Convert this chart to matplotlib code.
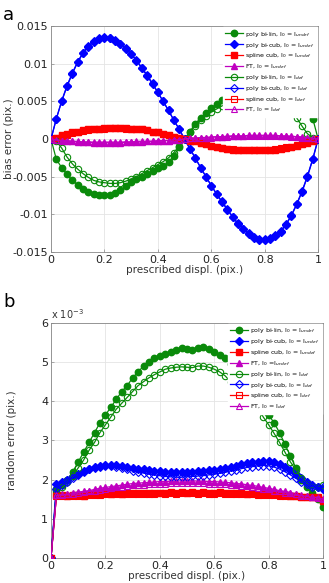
import numpy as np
import matplotlib
matplotlib.use("Agg")
import matplotlib.pyplot as plt

x = np.linspace(0, 1, 51)

# ---------------- panel a: bias error (pix.) ----------------
bias_bilin_undef = [0, -0.0027, -0.0038, -0.0047, -0.0055, -0.0061, -0.0066, -0.0070, -0.0073, -0.0075,
                    -0.0075, -0.0074, -0.0072, -0.0068, -0.0063, -0.0057, -0.0053, -0.0050, -0.0046, -0.0042,
                    -0.0039, -0.0036, -0.0031, -0.0022, -0.0011, 0.0000, 0.0010, 0.0020, 0.0028, 0.0035,
                    0.0041, 0.0047, 0.0052, 0.0057, 0.0062, 0.0066, 0.0070, 0.0073, 0.0075, 0.0076,
                    0.0076, 0.0075, 0.0073, 0.0070, 0.0066, 0.0061, 0.0055, 0.0048, 0.0040, 0.0027, 0.0]
bias_bicub_undef = [0, 0.0027, 0.0050, 0.0070, 0.0087, 0.0102, 0.0114, 0.0123, 0.0129, 0.0133,
                    0.0135, 0.0134, 0.0131, 0.0126, 0.0120, 0.0113, 0.0104, 0.0094, 0.0084, 0.0073,
                    0.0062, 0.0050, 0.0038, 0.0025, 0.0013, 0.0000, -0.0013, -0.0025, -0.0038, -0.0050,
                    -0.0062, -0.0073, -0.0084, -0.0094, -0.0104, -0.0113, -0.0120, -0.0126, -0.0131, -0.0134,
                    -0.0134, -0.0133, -0.0129, -0.0123, -0.0114, -0.0102, -0.0087, -0.0070, -0.0050, -0.0027, 0.0]
bias_spline_undef = [0, 0.0002, 0.0005, 0.0007, 0.0009, 0.0010, 0.0012, 0.0013, 0.0014, 0.0014,
                     0.0015, 0.0015, 0.0015, 0.0015, 0.0015, 0.0014, 0.0014, 0.0013, 0.0012, 0.0010,
                     0.0009, 0.0007, 0.0005, 0.0003, 0.0002, 0.0000, -0.0002, -0.0003, -0.0005, -0.0007,
                     -0.0009, -0.0010, -0.0012, -0.0013, -0.0014, -0.0014, -0.0015, -0.0015, -0.0015, -0.0015,
                     -0.0015, -0.0014, -0.0014, -0.0013, -0.0012, -0.0010, -0.0009, -0.0007, -0.0005, -0.0002, 0.0]
bias_ft_undef = [0, -0.0001, -0.0002, -0.0003, -0.0003, -0.0004, -0.0004, -0.0004, -0.0005, -0.0005,
                 -0.0005, -0.0005, -0.0005, -0.0005, -0.0004, -0.0004, -0.0004, -0.0004, -0.0003, -0.0003,
                 -0.0003, -0.0002, -0.0002, -0.0001, -0.0001, 0.0000, 0.0001, 0.0001, 0.0002, 0.0002,
                 0.0003, 0.0003, 0.0003, 0.0004, 0.0004, 0.0004, 0.0004, 0.0005, 0.0005, 0.0005,
                 0.0005, 0.0005, 0.0005, 0.0004, 0.0004, 0.0004, 0.0003, 0.0003, 0.0002, 0.0001, 0.0]
bias_bilin_def = [0, -0.0003, -0.0012, -0.0024, -0.0033, -0.0040, -0.0046, -0.0051, -0.0055, -0.0057,
                  -0.0058, -0.0059, -0.0059, -0.0058, -0.0056, -0.0053, -0.0050, -0.0046, -0.0042, -0.0038,
                  -0.0034, -0.0030, -0.0025, -0.0018, -0.0009, 0.0000, 0.0009, 0.0018, 0.0025, 0.0031,
                  0.0036, 0.0040, 0.0044, 0.0047, 0.0050, 0.0053, 0.0055, 0.0057, 0.0058, 0.0059,
                  0.0059, 0.0058, 0.0056, 0.0052, 0.0046, 0.0038, 0.0028, 0.0017, 0.0007, 0.0002, 0.0]
bias_bicub_def = [0, 0.0027, 0.0051, 0.0071, 0.0088, 0.0103, 0.0115, 0.0124, 0.0130, 0.0134,
                  0.0136, 0.0135, 0.0132, 0.0127, 0.0121, 0.0113, 0.0105, 0.0095, 0.0085, 0.0074,
                  0.0062, 0.0050, 0.0038, 0.0025, 0.0013, 0.0000, -0.0013, -0.0025, -0.0038, -0.0050,
                  -0.0062, -0.0073, -0.0083, -0.0093, -0.0103, -0.0112, -0.0119, -0.0125, -0.0130, -0.0133,
                  -0.0133, -0.0132, -0.0128, -0.0122, -0.0113, -0.0101, -0.0086, -0.0069, -0.0049, -0.0026, 0.0]
bias_spline_def = [0, 0.0002, 0.0004, 0.0006, 0.0008, 0.0010, 0.0011, 0.0012, 0.0013, 0.0014,
                   0.0014, 0.0015, 0.0015, 0.0015, 0.0014, 0.0014, 0.0013, 0.0013, 0.0012, 0.0010,
                   0.0009, 0.0007, 0.0005, 0.0003, 0.0002, 0.0000, -0.0002, -0.0003, -0.0005, -0.0007,
                   -0.0009, -0.0010, -0.0012, -0.0013, -0.0013, -0.0014, -0.0014, -0.0015, -0.0015, -0.0015,
                   -0.0014, -0.0014, -0.0013, -0.0012, -0.0011, -0.0010, -0.0008, -0.0006, -0.0004, -0.0002, 0.0]
bias_ft_def = [0, -0.0001, -0.0002, -0.0002, -0.0003, -0.0003, -0.0004, -0.0004, -0.0004, -0.0004,
               -0.0004, -0.0004, -0.0004, -0.0004, -0.0004, -0.0004, -0.0003, -0.0003, -0.0003, -0.0003,
               -0.0002, -0.0002, -0.0002, -0.0001, -0.0001, 0.0000, 0.0001, 0.0001, 0.0002, 0.0002,
               0.0002, 0.0003, 0.0003, 0.0003, 0.0004, 0.0004, 0.0004, 0.0004, 0.0004, 0.0004,
               0.0004, 0.0004, 0.0004, 0.0004, 0.0004, 0.0003, 0.0003, 0.0002, 0.0002, 0.0001, 0.0]

# ---------------- panel b: random error (x 1e-3 pix.) ----------------
rnd_bilin_undef = [0, 1.75, 1.85, 2.0, 2.2, 2.45, 2.7, 2.95, 3.2, 3.45,
                   3.65, 3.85, 4.05, 4.25, 4.4, 4.6, 4.75, 4.9, 5.0, 5.1,
                   5.15, 5.22, 5.27, 5.32, 5.36, 5.33, 5.3, 5.36, 5.38, 5.33,
                   5.25, 5.18, 5.1, 4.95, 4.8, 4.6, 4.4, 4.2, 4.0, 3.85,
                   3.65, 3.45, 3.2, 2.9, 2.6, 2.3, 2.0, 1.8, 1.65, 1.5, 1.3]
rnd_bicub_undef = [0, 1.9, 1.95, 2.0, 2.08, 2.15, 2.22, 2.28, 2.32, 2.35,
                   2.37, 2.38, 2.37, 2.35, 2.33, 2.3, 2.28, 2.26, 2.24, 2.22,
                   2.21, 2.2, 2.2, 2.19, 2.19, 2.2, 2.2, 2.21, 2.22, 2.24,
                   2.25, 2.27, 2.3, 2.33, 2.36, 2.39, 2.42, 2.44, 2.46, 2.47,
                   2.47, 2.44, 2.4, 2.33, 2.25, 2.15, 2.05, 1.95, 1.85, 1.8, 1.75]
rnd_spline_undef = [0, 1.6, 1.6, 1.58, 1.6, 1.6, 1.58, 1.62, 1.62, 1.63,
                    1.65, 1.64, 1.65, 1.64, 1.66, 1.65, 1.66, 1.65, 1.67, 1.66,
                    1.67, 1.66, 1.68, 1.66, 1.68, 1.67, 1.68, 1.66, 1.68, 1.67,
                    1.66, 1.68, 1.66, 1.67, 1.65, 1.66, 1.64, 1.65, 1.63, 1.64,
                    1.62, 1.62, 1.6, 1.6, 1.58, 1.58, 1.56, 1.56, 1.55, 1.55, 1.45]
rnd_ft_undef = [0, 1.6, 1.62, 1.64, 1.66, 1.68, 1.7, 1.72, 1.75, 1.78,
                1.8, 1.82, 1.84, 1.86, 1.88, 1.9, 1.91, 1.92, 1.93, 1.94,
                1.95, 1.95, 1.96, 1.96, 1.97, 1.97, 1.97, 1.96, 1.96, 1.95,
                1.95, 1.94, 1.93, 1.92, 1.9, 1.89, 1.87, 1.85, 1.83, 1.8,
                1.78, 1.75, 1.72, 1.7, 1.67, 1.64, 1.6, 1.57, 1.55, 1.55, 1.5]
rnd_bilin_def = [0, 1.7, 1.8, 1.95, 2.1, 2.3, 2.5, 2.75, 2.95, 3.2,
                 3.4, 3.6, 3.8, 3.95, 4.1, 4.25, 4.4, 4.5, 4.6, 4.68,
                 4.75, 4.82, 4.85, 4.87, 4.88, 4.87, 4.86, 4.9, 4.9, 4.87,
                 4.82, 4.75, 4.65, 4.5, 4.35, 4.2, 4.0, 3.8, 3.85, 3.6,
                 3.4, 3.18, 2.95, 2.7, 2.45, 2.25, 2.05, 1.9, 1.8, 1.8, 1.85]
rnd_bicub_def = [0, 1.75, 1.85, 1.95, 2.05, 2.12, 2.2, 2.26, 2.3, 2.33,
                 2.35, 2.35, 2.33, 2.3, 2.27, 2.23, 2.2, 2.17, 2.14, 2.12,
                 2.1, 2.08, 2.07, 2.06, 2.06, 2.07, 2.08, 2.09, 2.1, 2.12,
                 2.14, 2.16, 2.19, 2.22, 2.25, 2.28, 2.31, 2.33, 2.35, 2.36,
                 2.35, 2.32, 2.27, 2.2, 2.12, 2.03, 1.95, 1.88, 1.82, 1.8, 1.8]
rnd_spline_def = [0, 1.58, 1.57, 1.58, 1.57, 1.59, 1.58, 1.6, 1.6, 1.61,
                  1.62, 1.62, 1.63, 1.62, 1.63, 1.63, 1.64, 1.63, 1.64, 1.64,
                  1.65, 1.64, 1.65, 1.64, 1.65, 1.65, 1.65, 1.64, 1.65, 1.64,
                  1.64, 1.65, 1.64, 1.64, 1.63, 1.63, 1.62, 1.62, 1.61, 1.61,
                  1.6, 1.6, 1.59, 1.58, 1.57, 1.57, 1.56, 1.55, 1.55, 1.54, 1.48]
rnd_ft_def = [0, 1.6, 1.61, 1.63, 1.64, 1.66, 1.68, 1.7, 1.72, 1.74,
              1.76, 1.78, 1.8, 1.82, 1.83, 1.85, 1.86, 1.87, 1.88, 1.89,
              1.9, 1.9, 1.91, 1.91, 1.92, 1.92, 1.92, 1.91, 1.91, 1.9,
              1.9, 1.89, 1.88, 1.87, 1.86, 1.84, 1.83, 1.81, 1.79, 1.77,
              1.75, 1.72, 1.7, 1.67, 1.65, 1.62, 1.59, 1.57, 1.55, 1.54, 1.5]

labels_a = ["poly bi-lin, I$_0$ = I$_{undef}$", "poly bi-cub, I$_0$ = I$_{undef}$",
            "spline cub, I$_0$ = I$_{undef}$", "FT, I$_0$ = I$_{undef}$",
            "poly bi-lin, I$_0$ = I$_{def}$", "poly bi-cub, I$_0$ = I$_{def}$",
            "spline cub, I$_0$ = I$_{def}$", "FT, I$_0$ = I$_{def}$"]
labels_b = ["poly bi-lin, I$_0$ = I$_{undef}$", "poly bi-cub, I$_0$ = I$_{undef}$",
            "spline cub, I$_0$ = I$_{undef}$", "FT, I$_0$ =I$_{undef}$",
            "poly bi-lin, I$_0$ = I$_{def}$", "poly bi-cub, I$_0$ = I$_{def}$",
            "spline cub, I$_0$ = I$_{def}$", "FT, I$_0$ = I$_{def}$"]
xticks = [0, 0.2, 0.4, 0.6, 0.8, 1]
xticklabels = ["0", "0.2", "0.4", "0.6", "0.8", "1"]
yticks_a = [-0.015, -0.01, -0.005, 0, 0.005, 0.01, 0.015]
yticklabels_a = ["-0.015", "-0.01", "-0.005", "0", "0.005", "0.01", "0.015"]
yticks_b = [0, 1, 2, 3, 4, 5, 6]

colors = ["#0a8a0a", "#0000ff", "#ff0000", "#c000c0"]
markers = ["o", "D", "s", "^"]
msizes = [4.6, 3.6, 3.8, 4.2]

fig = plt.figure(figsize=(3.29, 5.83), dpi=100)
ax_a = fig.add_axes([0.155, 0.568, 0.812, 0.387])
ax_b = fig.add_axes([0.155, 0.043, 0.827, 0.403])

def draw(ax, undef, defs, labels):
    for i, y in enumerate(undef):
        ax.plot(x, y, color=colors[i], marker=markers[i], ms=msizes[i], lw=0.9,
                mec=colors[i], mfc=colors[i], label=labels[i], zorder=3)
    for i, y in enumerate(defs):
        ax.plot(x, y, color=colors[i], marker=markers[i], ms=msizes[i], lw=0.9,
                mec=colors[i], mfc="none", mew=0.8, label=labels[4 + i], zorder=3)

def style(ax):
    ax.set_xlim(0, 1)
    ax.set_xticks(xticks)
    ax.set_xticklabels(xticklabels)
    ax.grid(True, color="#e4e4e4", lw=0.6, zorder=0)
    ax.set_axisbelow(True)
    for s in ax.spines.values():
        s.set_color("#888888")
        s.set_linewidth(0.6)
    ax.tick_params(direction="in", length=2.5, width=0.5, colors="#888888",
                   labelcolor="#222222", labelsize=8, pad=2)
    ax.set_xlabel("prescribed displ. (pix.)", fontsize=7.5, color="#333333", labelpad=0)

def legend(ax):
    leg = ax.legend(loc="upper right", fontsize=4.5, frameon=True, fancybox=False,
                    edgecolor="white", framealpha=1, handlelength=2.8, borderpad=0.4,
                    labelspacing=0.3, handletextpad=0.4, borderaxespad=0.15)
    leg.set_zorder(10)
    return leg

draw(ax_a, [bias_bilin_undef, bias_bicub_undef, bias_spline_undef, bias_ft_undef],
     [bias_bilin_def, bias_bicub_def, bias_spline_def, bias_ft_def], labels_a)
style(ax_a)
ax_a.set_ylim(-0.015, 0.015)
ax_a.set_yticks(yticks_a)
ax_a.set_yticklabels(yticklabels_a)
ax_a.set_ylabel("bias error (pix.)", fontsize=7.5, color="#333333")
ax_a.yaxis.set_label_coords(-0.14, 0.5)
legend(ax_a)

draw(ax_b, [rnd_bilin_undef, rnd_bicub_undef, rnd_spline_undef, rnd_ft_undef],
     [rnd_bilin_def, rnd_bicub_def, rnd_spline_def, rnd_ft_def], labels_b)
style(ax_b)
ax_b.set_ylim(0, 6)
ax_b.set_yticks(yticks_b)
ax_b.set_ylabel("random error (pix.)", fontsize=7.5, color="#333333")
ax_b.yaxis.set_label_coords(-0.125, 0.5)
ax_b.text(0.0, 1.01, "x 10$^{-3}$", transform=ax_b.transAxes, fontsize=7,
          color="#333333", ha="left", va="bottom")
legend(ax_b)

fig.text(0.01, 0.99, "a", fontsize=13, ha="left", va="top")
fig.text(0.01, 0.497, "b", fontsize=13, ha="left", va="top")

fig.savefig("out.png", dpi=100)
